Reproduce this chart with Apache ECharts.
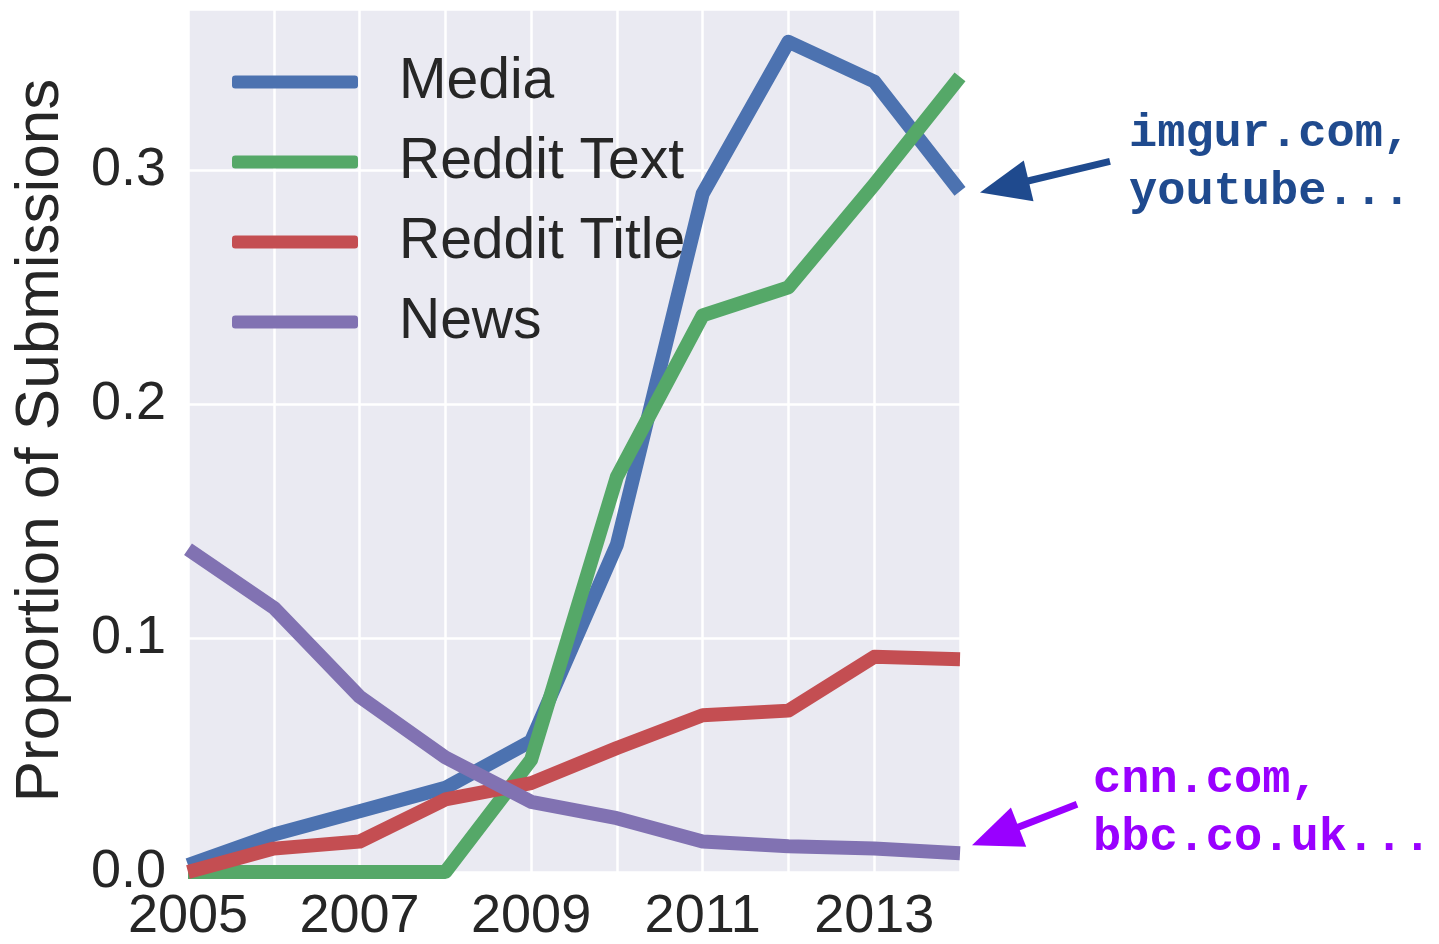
<!DOCTYPE html>
<html>
<head>
<meta charset="utf-8">
<script src="https://cdn.jsdelivr.net/npm/echarts@6/dist/echarts.min.js"></script>
<style>html,body{margin:0;padding:0;background:#fff;}#c{width:1439px;height:944px;}</style>
</head>
<body>
<div id="c"></div>
<script>
const years = [2005, 2006, 2007, 2008, 2009, 2010, 2011, 2012, 2013, 2014];
const media = [0.003, 0.016, 0.026, 0.036, 0.056, 0.140, 0.290, 0.355, 0.338, 0.291];
const redditText = [0.0, 0.0, 0.0, 0.0, 0.048, 0.169, 0.238, 0.250, 0.294, 0.340];
const redditTitle = [0.0, 0.010, 0.013, 0.031, 0.038, 0.053, 0.067, 0.069, 0.092, 0.091];
const news = [0.138, 0.113, 0.075, 0.049, 0.030, 0.023, 0.013, 0.011, 0.010, 0.008];
const seriesNames = ['Media', 'Reddit Text', 'Reddit Title', 'News'];
const colors = ['#4C72B0', '#55A868', '#C44E52', '#8172B2'];
const yTicks = [0.0, 0.1, 0.2, 0.3];
const annotations = [
  {lines: ['imgur.com,', 'youtube...'], color: '#1F4A8E'},
  {lines: ['cnn.com,', 'bbc.co.uk...'], color: '#9900FF'}
];

const chart = echarts.init(document.getElementById('c'), null, {renderer: 'canvas'});
const allData = [media, redditText, redditTitle, news];
const series = allData.map((arr, i) => ({
  name: seriesNames[i],
  type: 'line',
  data: years.map((y, j) => [y, arr[j]]),
  showSymbol: false,
  symbol: 'none',
  lineStyle: {width: 14, color: colors[i], join: 'round', cap: 'butt'},
  itemStyle: {color: colors[i]},
  clip: true,
  animation: false,
  z: 2 + i
}));

const font = 'Liberation Sans, Arial, sans-serif';
chart.setOption({
  animation: false,
  grid: {left: 188, right: 479, top: 9, bottom: 69, show: true, backgroundColor: '#EAEAF2', borderWidth: 0},
  legend: {
    orient: 'vertical', left: 232, top: 53, padding: 0,
    itemWidth: 126, itemHeight: 13, itemGap: 22,
    icon: 'roundRect',
    data: seriesNames,
    textStyle: {fontSize: 57, fontFamily: font, color: '#262626', padding: [0, 0, 0, 36], lineHeight: 58}
  },
  xAxis: {
    type: 'value', min: 2005, max: 2014, interval: 1,
    axisLine: {show: false}, axisTick: {show: false},
    splitLine: {show: true, lineStyle: {color: '#ffffff', width: 2.5}},
    axisLabel: {
      fontSize: 54, fontFamily: font, color: '#262626', margin: 18,
      formatter: v => (years.indexOf(v) % 2 === 0 && v < 2014) ? String(v) : ''
    }
  },
  yAxis: {
    type: 'value', min: 0, max: 0.369, interval: 0.1,
    name: 'Proportion of Submissions', nameLocation: 'middle', nameGap: 116,
    nameTextStyle: {fontSize: 62, fontFamily: font, color: '#262626'},
    axisLine: {show: false}, axisTick: {show: false},
    splitLine: {show: true, lineStyle: {color: '#ffffff', width: 2.5}},
    axisLabel: {
      fontSize: 54, fontFamily: font, color: '#262626', margin: 22,
      formatter: v => {
        const t = yTicks.find(k => Math.abs(k - v) < 1e-6);
        return t === undefined ? '' : t.toFixed(1);
      }
    }
  },
  series: series
});

function arrow(tail, tip, color, headLen, headW, shaftW) {
  const dx = tip[0] - tail[0], dy = tip[1] - tail[1];
  const L = Math.sqrt(dx * dx + dy * dy);
  const ux = dx / L, uy = dy / L, px = -uy, py = ux;
  const base = [tip[0] - ux * headLen, tip[1] - uy * headLen];
  return [
    {type: 'line', shape: {x1: tail[0], y1: tail[1], x2: base[0] + ux * 4, y2: base[1] + uy * 4},
     style: {stroke: color, lineWidth: shaftW}, z: 100},
    {type: 'polygon', shape: {points: [tip, [base[0] + px * headW / 2, base[1] + py * headW / 2], [base[0] - px * headW / 2, base[1] - py * headW / 2]]},
     style: {fill: color}, z: 100}
  ];
}

const pMedia = chart.convertToPixel({gridIndex: 0}, [years[9], media[9]]);
const pNews = chart.convertToPixel({gridIndex: 0}, [years[9], news[9]]);
const g = [];
g.push(...arrow([pMedia[0] + 150, pMedia[1] - 30], [pMedia[0] + 20, pMedia[1] + 1], annotations[0].color, 50, 42, 7));
g.push({type: 'text', left: pMedia[0] + 169, top: pMedia[1] - 86, z: 100,
  style: {text: annotations[0].lines.join('\n'), fill: annotations[0].color, font: 'bold 47px "Liberation Mono", "Courier New", monospace', lineHeight: 58}});
g.push(...arrow([pNews[0] + 117, pNews[1] - 49], [pNews[0] + 12, pNews[1] - 8], annotations[1].color, 50, 42, 7));
g.push({type: 'text', left: pNews[0] + 133, top: pNews[1] - 102, z: 100,
  style: {text: annotations[1].lines.join('\n'), fill: annotations[1].color, font: 'bold 47px "Liberation Mono", "Courier New", monospace', lineHeight: 58}});
chart.setOption({graphic: g});
</script>
</body>
</html>
